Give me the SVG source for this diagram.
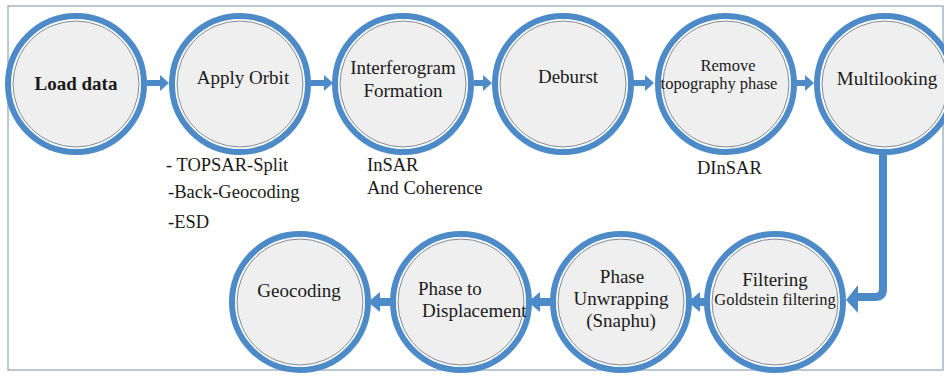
<svg xmlns="http://www.w3.org/2000/svg" width="944" height="378" viewBox="0 0 944 378">
<style>
.ring{fill:#ffffff;stroke:#4d8ac8;stroke-width:6}
.inner{fill:#efefef;stroke:#7f8a94;stroke-width:1}
text{font-family:'Liberation Serif','Times New Roman','DejaVu Serif',serif;font-size:19px;fill:#1a1a1a}
.t{text-anchor:middle}
.s{font-size:16.5px}
.a{font-size:18.5px}
.con{fill:#4d8ac8;stroke:none}
.line{fill:none;stroke:#4d8ac8;stroke-width:8;stroke-linejoin:round}
</style>
<defs>
<g id="circ"><circle class="ring" r="68"/><circle class="inner" r="63"/></g>
</defs>
<rect x="8" y="6" width="935" height="364" fill="#ffffff" stroke="#8da2b8" stroke-width="1.2"/>

<g id="connectors">
<path class="con" d="M147 80 H160 V75 L169 83 L160 91 V86 H147 Z"/>
<path class="con" d="M311 80 H324 V75 L333 83 L324 91 V86 H311 Z"/>
<path class="con" d="M474 80 H483 V75 L492 83 L483 91 V86 H474 Z"/>
<path class="con" d="M632 80 H645 V75 L654 83 L645 91 V86 H632 Z"/>
<path class="con" d="M795 80 H805 V75 L814 83 L805 91 V86 H795 Z"/>
<path class="line" d="M883 152 V289 Q883 297 875 297 H856"/>
<path class="con" d="M858 285 L846 300 L858 313 Z"/>
<path class="con" d="M706 298 H700 V292 L688 302 L700 312 V306 H706 Z"/>
<path class="con" d="M552 298 H540 V292 L528 302 L540 312 V306 H552 Z"/>
<path class="con" d="M392 298 H380 V292 L368 302 L380 312 V306 H392 Z"/>
</g>

<g id="load-data"><use href="#circ" x="76" y="84"/><text class="t" x="76" y="90" font-weight="bold">Load data</text></g>
<g id="apply-orbit"><use href="#circ" x="240" y="84"/><text class="t" x="243" y="84" font-size="20.5">Apply Orbit</text></g>
<g id="interferogram"><use href="#circ" x="403" y="84"/><text class="t" x="403" y="74">Interferogram</text><text class="t" x="403" y="97">Formation</text></g>
<g id="deburst"><use href="#circ" x="563" y="84"/><text class="t" x="568" y="83">Deburst</text></g>
<g id="remove-topo"><use href="#circ" x="726" y="84"/><text class="t s" x="728" y="71">Remove</text><text class="t s" x="719" y="89">topography phase</text></g>
<g id="multilooking"><use href="#circ" x="885" y="84"/><text class="t" x="887" y="85">Multilooking</text></g>

<g id="filtering"><use href="#circ" x="775" y="302"/><text class="t" x="775" y="286">Filtering</text><text class="t s" x="775" y="305">Goldstein filtering</text></g>
<g id="phase-unwrapping"><use href="#circ" x="621" y="302"/><text class="t" x="622" y="283">Phase</text><text class="t" x="621" y="305">Unwrapping</text><text class="t" x="621" y="327">(Snaphu)</text></g>
<g id="phase-to-displacement"><use href="#circ" x="461" y="302"/><text x="418" y="295" font-size="17.4">Phase to</text><text x="422" y="317" font-size="17.4">Displacement</text></g>
<g id="geocoding"><use href="#circ" x="300" y="302"/><text class="t" x="299" y="297">Geocoding</text></g>

<g id="labels">
<text class="a" x="166" y="171">- TOPSAR-Split</text>
<text class="a" x="168" y="198">-Back-Geocoding</text>
<text class="a" x="168" y="228">-ESD</text>
<text class="a" x="367" y="171">InSAR</text>
<text class="a" x="367" y="194">And Coherence</text>
<text class="a" x="697" y="174">DInSAR</text>
</g>
</svg>
